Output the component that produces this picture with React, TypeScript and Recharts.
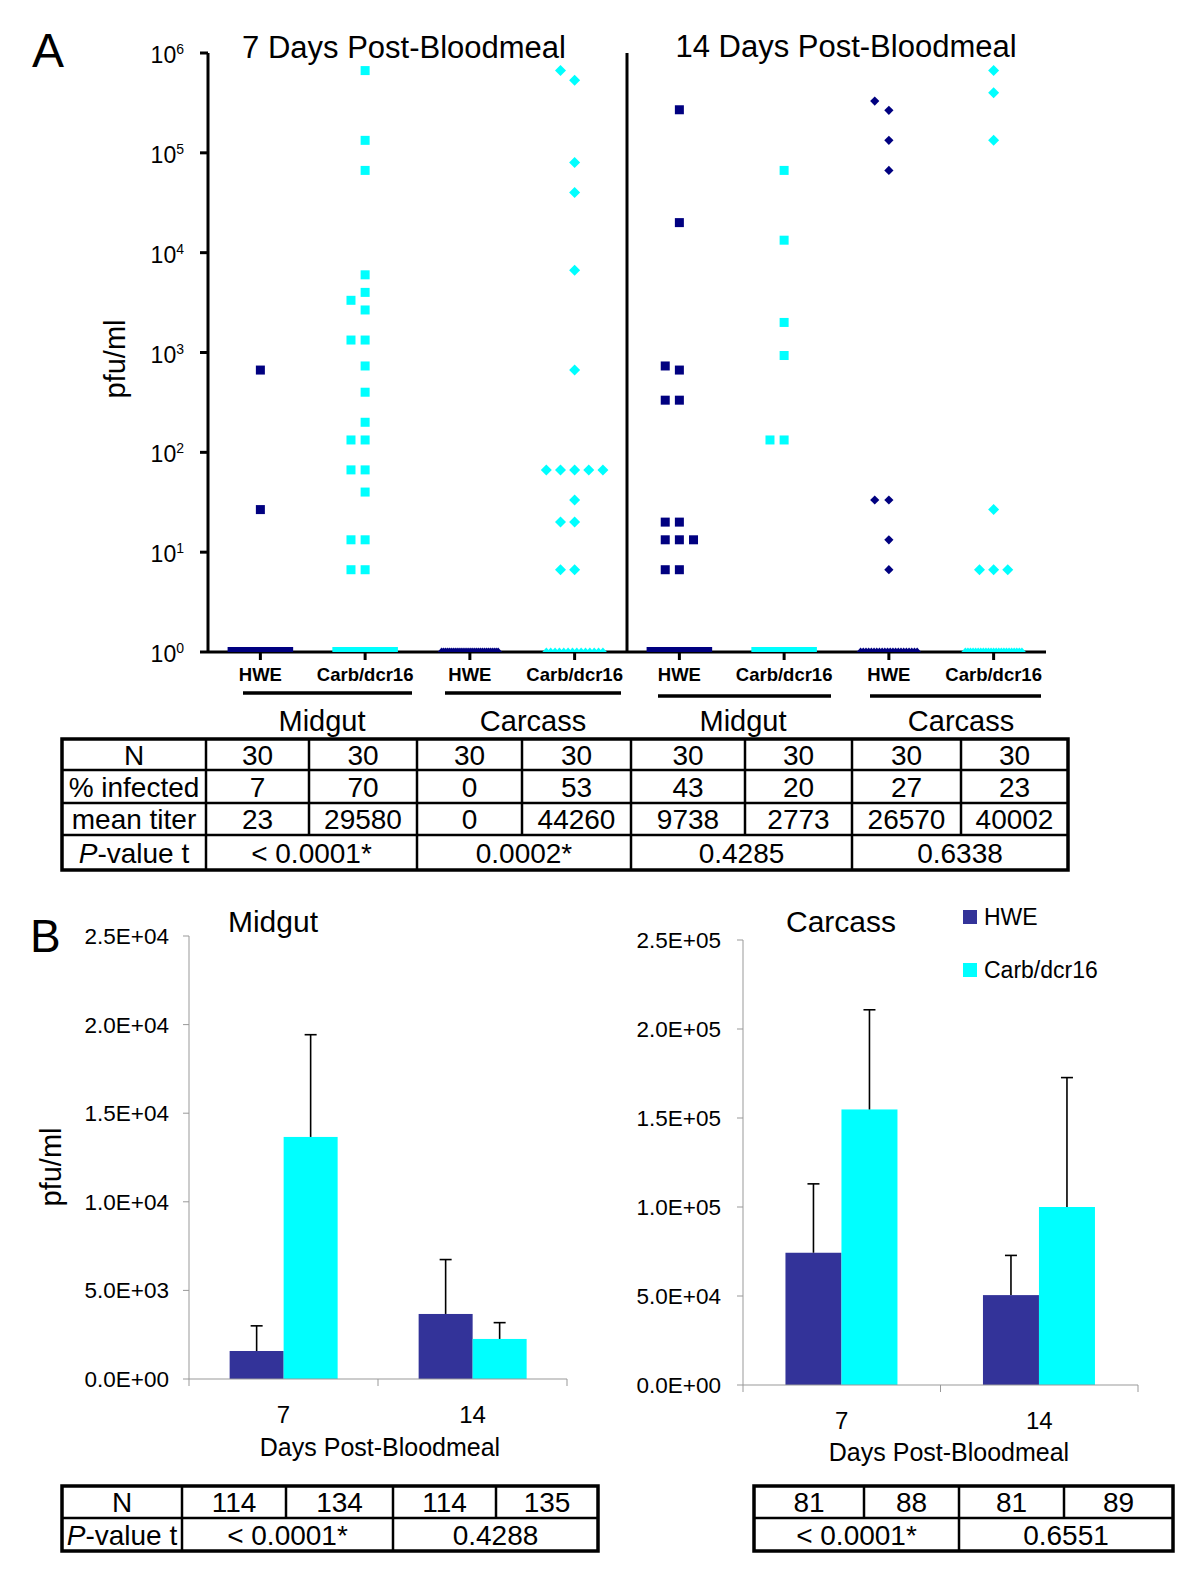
import React from 'react';
import { ScatterChart, Scatter, XAxis, YAxis, ReferenceLine, BarChart, Bar, Legend } from 'recharts';

const FONT = '"Liberation Sans", Arial, Helvetica, sans-serif';
const NAVY = '#000080';
const CYAN = '#00ffff';
const HWE_BLUE = '#333399';

// ---- panel A: titer of each infected mosquito (pfu/ml) ----
const columnStrain = ['HWE', 'Carb/dcr16', 'HWE', 'Carb/dcr16', 'HWE', 'Carb/dcr16', 'HWE', 'Carb/dcr16'];
const columnTissue = ['Midgut', 'Midgut', 'Carcass', 'Carcass', 'Midgut', 'Midgut', 'Carcass', 'Carcass'];
const tissueLabels = ['Midgut', 'Carcass', 'Midgut', 'Carcass'];
const dayTitles = ['7 Days Post-Bloodmeal', '14 Days Post-Bloodmeal'];
const logTicks = [1, 10, 100, 1000, 10000, 100000, 1000000];

const midgutHWE7 = [667, 26.7];
const midgutCarb7 = [666667, 133333, 66667, 6000, 4000, 3333, 2667, 1333, 1333, 733, 400, 200, 133, 133, 66.7, 66.7, 40, 13.3, 13.3, 6.67, 6.67];
const carcassHWE7: number[] = [];
const carcassCarb7 = [666667, 533333, 80000, 40000, 6667, 667, 66.7, 66.7, 66.7, 66.7, 66.7, 33.3, 20, 20, 6.67, 6.67];
const midgutHWE14 = [270000, 20000, 733, 667, 333, 333, 20, 20, 13.3, 13.3, 13.3, 6.67, 6.67];
const midgutCarb14 = [66667, 13333, 2000, 933, 133, 133];
const carcassHWE14 = [330000, 266667, 133333, 66667, 33.3, 33.3, 13.3, 6.67];
const carcassCarb14 = [666667, 400000, 133333, 26.7, 6.67, 6.67, 6.67];
const columnTiters = [midgutHWE7, midgutCarb7, carcassHWE7, carcassCarb7, midgutHWE14, midgutCarb14, carcassHWE14, carcassCarb14];

const sampleN = [30, 30, 30, 30, 30, 30, 30, 30];
const pctInfected = [7, 70, 0, 53, 43, 20, 27, 23];
const meanTiter = [23, 29580, 0, 44260, 9738, 2773, 26570, 40002];
const pValueA = ['< 0.0001*', '0.0002*', '0.4285', '0.6338'];

// ---- panel B: mean titer +/- error ----
const days = ['7', '14'];
const midgutHWE = [1580, 3670];
const midgutHWEErr = [1420, 3070];
const midgutCarb = [13660, 2260];
const midgutCarbErr = [5770, 920];
const carcassHWE = [74300, 50500];
const carcassHWEErr = [38700, 22300];
const carcassCarb = [154800, 100000];
const carcassCarbErr = [56000, 72700];
const midgutTicks = [0, 5000, 10000, 15000, 20000, 25000];
const carcassTicks = [0, 50000, 100000, 150000, 200000, 250000];
const seriesNames = ['HWE', 'Carb/dcr16'];

const midgutNB = [114, 134, 114, 135];
const midgutPB = ['< 0.0001*', '0.4288'];
const carcassNB = [81, 88, 81, 89];
const carcassPB = ['< 0.0001*', '0.6551'];

const midgutData = days.map((d, i) => ({
  day: d, hwe: midgutHWE[i], hweErr: midgutHWEErr[i], carb: midgutCarb[i], carbErr: midgutCarbErr[i],
}));
const carcassData = days.map((d, i) => ({
  day: d, hwe: carcassHWE[i], hweErr: carcassHWEErr[i], carb: carcassCarb[i], carbErr: carcassCarbErr[i],
}));

// spread tied / overlapping values sideways like a column dot plot
const SLOT_ORDER = [0, -1, 1, -2, 2, -3, 3];
const SLOT_STEP = 0.135;
const OVERLAP = 0.105; // decades
const ZERO_SPREAD = 0.27;

function layoutColumn(values: number[], n: number, col: number) {
  const pts: { x: number; y: number; zero: boolean }[] = [];
  const zeros = n - values.length;
  for (let k = 0; k < zeros; k++) {
    const t = zeros > 1 ? k / (zeros - 1) : 0.5;
    pts.push({ x: col + 0.5 - ZERO_SPREAD + 2 * ZERO_SPREAD * t, y: 1, zero: true });
  }
  const placed: { slot: number; lv: number }[] = [];
  [...values].sort((a, b) => a - b).forEach((v) => {
    const lv = Math.log10(v);
    const slot = SLOT_ORDER.find((s) => !placed.some((p) => p.slot === s && Math.abs(p.lv - lv) < OVERLAP)) ?? 0;
    placed.push({ slot, lv });
    pts.push({ x: col + 0.5 + slot * SLOT_STEP, y: v, zero: false });
  });
  return pts;
}

const markShape = (tissue: string, color: string) => (props: any) => {
  const { cx, cy, payload } = props;
  if (tissue === 'Midgut') {
    const h = 4.5;
    if (payload.zero) return <rect x={cx - h} y={cy - 5} width={2 * h} height={5} fill={color} />;
    return <rect x={cx - h} y={cy - h} width={2 * h} height={2 * h} fill={color} />;
  }
  const r = color === CYAN ? 5.5 : 4.6;
  if (payload.zero) return <path d={`M${cx - 4},${cy} L${cx},${cy - 4.5} L${cx + 4},${cy} Z`} fill={color} />;
  return <path d={`M${cx},${cy - r} L${cx + r},${cy} L${cx},${cy + r} L${cx - r},${cy} Z`} fill={color} />;
};

const StrainTick = (props: any) => {
  const { x, y, payload } = props;
  const idx = Math.floor(payload.value);
  return (
    <text x={x} y={y + 21} textAnchor="middle" fontFamily={FONT} fontWeight="bold" fontSize={18.5} fill="#000">
      {columnStrain[idx]}
    </text>
  );
};

const PowerTick = (props: any) => {
  const { x, y, payload } = props;
  const e = Math.round(Math.log10(payload.value));
  return (
    <text x={x} y={y + 10} textAnchor="end" fontFamily={FONT} fill="#000">
      <tspan fontSize={23}>10</tspan>
      <tspan fontSize={14} dy={-9}>{e}</tspan>
    </text>
  );
};

const sci = (v: number) => {
  const [m, e] = v.toExponential(1).split('e');
  const sign = e[0] === '-' ? '-' : '+';
  return `${m}E${sign}${e.replace(/[+-]/, '').padStart(2, '0')}`;
};

const barWithError = (valueKey: string, errKey: string) => (props: any) => {
  const { x, y, width, height, fill, payload } = props;
  const k = height / payload[valueKey];
  const top = y - payload[errKey] * k;
  const cx = x + width / 2;
  return (
    <g>
      <rect x={x} y={y} width={width} height={height} fill={fill} />
      <line x1={cx} y1={y} x2={cx} y2={top} stroke="#000" strokeWidth={1.6} />
      <line x1={cx - 6} y1={top} x2={cx + 6} y2={top} stroke="#000" strokeWidth={1.6} />
    </g>
  );
};

const DayTick = (props: any) => {
  const { x, y, payload, index, half } = props;
  return (
    <g>
      <line x1={x - half} y1={y} x2={x - half} y2={y + 7} stroke="#999" />
      {index === days.length - 1 && <line x1={x + half} y1={y} x2={x + half} y2={y + 7} stroke="#999" />}
      <text x={x} y={y + 44} textAnchor="middle" fontFamily={FONT} fontSize={24} fill="#000">
        {payload.value}
      </text>
    </g>
  );
};

const LegendBox = () => (
  <div style={{ fontFamily: FONT, fontSize: 23, color: '#000' }}>
    {seriesNames.map((n, i) => (
      <div key={n} style={{ display: 'flex', alignItems: 'center', height: 26, marginBottom: i === 0 ? 27 : 0 }}>
        <span style={{ width: 14, height: 14, background: i === 0 ? HWE_BLUE : CYAN, marginRight: 7, display: 'inline-block' }} />
        <span>{n}</span>
      </div>
    ))}
  </div>
);

interface TiterBarsProps {
  data: any[];
  ticks: number[];
  height: number;
  yAxisWidth: number;
  marginTop: number;
  marginRight: number;
  tickMargin: number;
  showLegend?: boolean;
}

const TiterBars: React.FC<TiterBarsProps> = ({ data, ticks, height, yAxisWidth, marginTop, marginRight, tickMargin, showLegend }) => {
  const plotW = 600 - yAxisWidth - marginRight;
  const half = plotW / days.length / 2;
  return (
    <BarChart width={600} height={height} data={data} margin={{ top: marginTop, right: marginRight, bottom: 0, left: 0 }} barGap={0} barCategoryGap="21.5%">
      <XAxis dataKey="day" height={60} tickLine={false} tickSize={0} tickMargin={0} interval={0}
        axisLine={{ stroke: '#999' }} tick={(p: any) => <DayTick {...p} half={half} />} />
      <YAxis type="number" domain={[ticks[0], ticks[ticks.length - 1]]} ticks={ticks} interval={0} tickFormatter={sci}
        width={yAxisWidth} tickSize={6} tickMargin={tickMargin} axisLine={{ stroke: '#999' }} tickLine={{ stroke: '#999' }}
        tick={{ fill: '#000', fontSize: 22.5, fontFamily: FONT }} />
      <Bar dataKey="hwe" name={seriesNames[0]} fill={HWE_BLUE} shape={barWithError('hwe', 'hweErr')} isAnimationActive={false} />
      <Bar dataKey="carb" name={seriesNames[1]} fill={CYAN} shape={barWithError('carb', 'carbErr')} isAnimationActive={false} />
      {showLegend && (
        <Legend layout="horizontal" verticalAlign="middle" align="center" content={() => <LegendBox />}
          wrapperStyle={{ left: 363, top: 4, width: 200, height: 90 }} />
      )}
    </BarChart>
  );
};

type TCell = { text: React.ReactNode; span?: number };

const GridTable = ({ cols, rows, cells, fontSize }: { cols: number[]; rows: number[]; cells: TCell[][]; fontSize: number }) => {
  const lines: React.ReactNode[] = [];
  const texts: React.ReactNode[] = [];
  const x0 = cols[0];
  const x1 = cols[cols.length - 1];
  for (let r = 1; r < rows.length - 1; r++) {
    lines.push(<line key={`h${r}`} x1={x0} x2={x1} y1={rows[r]} y2={rows[r]} stroke="#000" strokeWidth={2.5} />);
  }
  cells.forEach((row, r) => {
    let c = 0;
    row.forEach((cell, i) => {
      const span = cell.span ?? 1;
      const a = cols[c];
      const b = cols[c + span];
      texts.push(
        <text key={`t${r}-${i}`} x={(a + b) / 2} y={(rows[r] + rows[r + 1]) / 2 + fontSize * 0.36} textAnchor="middle" fontSize={fontSize}>
          {cell.text}
        </text>
      );
      c += span;
      if (c < cols.length - 1) {
        lines.push(<line key={`v${r}-${i}`} x1={cols[c]} x2={cols[c]} y1={rows[r]} y2={rows[r + 1]} stroke="#000" strokeWidth={2.5} />);
      }
    });
  });
  return (
    <g>
      {lines}
      <rect x={x0} y={rows[0]} width={x1 - x0} height={rows[rows.length - 1] - rows[0]} fill="none" stroke="#000" strokeWidth={3.5} />
      {texts}
    </g>
  );
};

const pLabel = (
  <>
    <tspan fontStyle="italic">P</tspan>-value t
  </>
);

const App: React.FC = () => {
  const tableA: TCell[][] = [
    [{ text: 'N' }, ...sampleN.map((v) => ({ text: v }))],
    [{ text: '% infected' }, ...pctInfected.map((v) => ({ text: v }))],
    [{ text: 'mean titer' }, ...meanTiter.map((v) => ({ text: v }))],
    [{ text: pLabel }, ...pValueA.map((v) => ({ text: v, span: 2 }))],
  ];
  const tableBL: TCell[][] = [
    [{ text: 'N' }, ...midgutNB.map((v) => ({ text: v }))],
    [{ text: pLabel }, ...midgutPB.map((v) => ({ text: v, span: 2 }))],
  ];
  const tableBR: TCell[][] = [
    carcassNB.map((v) => ({ text: v })),
    carcassPB.map((v) => ({ text: v, span: 2 })),
  ];

  return (
    <div style={{ position: 'absolute', left: 0, top: 0, width: 1200, height: 1574, background: '#fff', fontFamily: FONT }}>
      <div style={{ position: 'absolute', left: 0, top: 0 }}>
        <ScatterChart width={1200} height={700} margin={{ top: 53, right: 154, bottom: 0, left: 0 }}>
          <XAxis type="number" dataKey="x" domain={[0, 8]} ticks={columnStrain.map((_, i) => i + 0.5)} interval={0}
            height={48} tickSize={8} tickMargin={0} allowDataOverflow
            axisLine={{ stroke: '#000', strokeWidth: 3 }} tickLine={{ stroke: '#000', strokeWidth: 3 }}
            tick={(p: any) => <StrainTick {...p} />} />
          <YAxis type="number" dataKey="y" scale="log" domain={[1, 1000000]} ticks={logTicks} interval={0}
            width={208} tickSize={8} tickMargin={16} allowDataOverflow
            axisLine={{ stroke: '#000', strokeWidth: 3 }} tickLine={{ stroke: '#000', strokeWidth: 3 }}
            tick={(p: any) => <PowerTick {...p} />} />
          <ReferenceLine x={4} stroke="#000" strokeWidth={3} />
          {columnTiters.map((vals, i) => {
            const color = columnStrain[i] === 'HWE' ? NAVY : CYAN;
            return (
              <Scatter key={i} name={`${columnStrain[i]} ${columnTissue[i]}`} data={layoutColumn(vals, sampleN[i], i)}
                fill={color} shape={markShape(columnTissue[i], color)} isAnimationActive={false} />
            );
          })}
        </ScatterChart>
      </div>

      <div style={{ position: 'absolute', left: 0, top: 900 }}>
        <TiterBars data={midgutData} ticks={midgutTicks} height={539} yAxisWidth={189} marginTop={36} marginRight={33} tickMargin={14} />
      </div>
      <div style={{ position: 'absolute', left: 600, top: 900 }}>
        <TiterBars data={carcassData} ticks={carcassTicks} height={545} yAxisWidth={143} marginTop={40} marginRight={62} tickMargin={16} showLegend />
      </div>

      <svg width={1200} height={1574} style={{ position: 'absolute', left: 0, top: 0, pointerEvents: 'none' }} fontFamily={FONT} fill="#000">
        <text x={32} y={67} fontSize={48}>A</text>
        <text x={404} y={58} fontSize={31} textAnchor="middle">{dayTitles[0]}</text>
        <text x={846} y={57} fontSize={31} textAnchor="middle">{dayTitles[1]}</text>
        <text transform="translate(125,359) rotate(-90)" fontSize={29} textAnchor="middle">pfu/ml</text>
        {[[243, 412, 693], [445, 621, 693], [658, 831, 696], [870, 1041, 696]].map(([a, b, yy], i) => (
          <line key={i} x1={a} x2={b} y1={yy} y2={yy} stroke="#000" strokeWidth={3.5} />
        ))}
        {tissueLabels.map((t, i) => (
          <text key={i} x={[322, 533, 743, 961][i]} y={731} fontSize={29} textAnchor="middle">{t}</text>
        ))}
        <GridTable cols={[62, 206, 309, 417, 522, 631, 745, 852, 961, 1068]} rows={[739, 770, 803, 835, 870]} cells={tableA} fontSize={28} />

        <text x={30} y={952} fontSize={46}>B</text>
        <text x={273} y={932} fontSize={30} textAnchor="middle">Midgut</text>
        <text x={841} y={932} fontSize={30} textAnchor="middle">Carcass</text>
        <text transform="translate(61,1167) rotate(-90)" fontSize={29} textAnchor="middle">pfu/ml</text>
        <text x={380} y={1456} fontSize={25} textAnchor="middle">Days Post-Bloodmeal</text>
        <text x={949} y={1461} fontSize={25} textAnchor="middle">Days Post-Bloodmeal</text>
        <GridTable cols={[62, 182, 286, 393, 496, 598]} rows={[1486, 1518, 1551]} cells={tableBL} fontSize={28} />
        <GridTable cols={[754, 864, 959, 1064, 1173]} rows={[1486, 1518, 1551]} cells={tableBR} fontSize={28} />
      </svg>
    </div>
  );
};

export default App;
